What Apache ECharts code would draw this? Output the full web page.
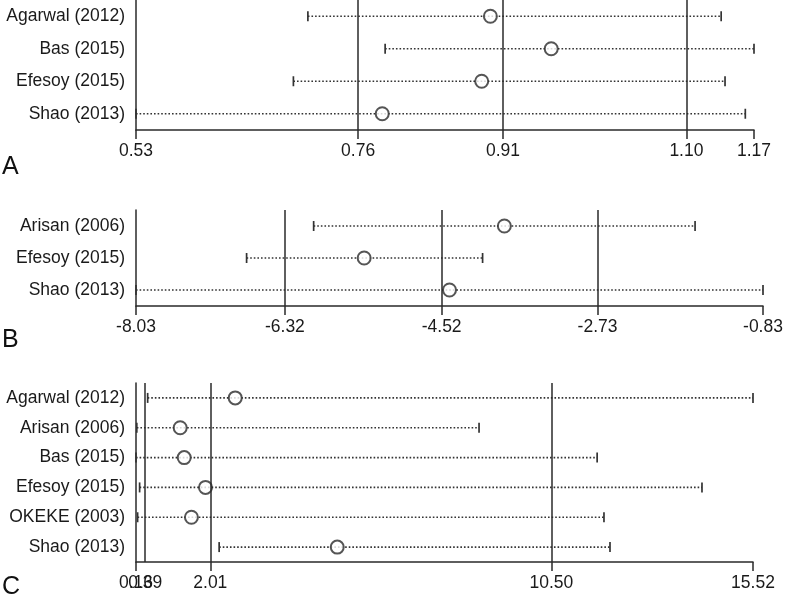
<!DOCTYPE html>
<html>
<head>
<meta charset="utf-8">
<title>Sensitivity analysis</title>
<script src="https://cdn.jsdelivr.net/npm/echarts@6.0.0/dist/echarts.min.js"></script>
<style>
  html, body { margin: 0; padding: 0; background: #fff; }
  #chart { width: 787px; height: 602px; }
</style>
</head>
<body>
<div id="chart"></div>
<script>
// panel A
const studiesA = ['Agarwal (2012)', 'Bas (2015)', 'Efesoy (2015)', 'Shao (2013)']
const estA = [0.897, 0.960, 0.888, 0.785]
const lowA = [0.708, 0.788, 0.693, 0.53]
const highA = [1.136, 1.17, 1.140, 1.161]
const ticksA = [0.53, 0.76, 0.91, 1.10, 1.17]
const refA = [0.76, 0.91, 1.10]

// panel B
const studiesB = ['Arisan (2006)', 'Efesoy (2015)', 'Shao (2013)']
const estB = [-3.80, -5.41, -4.43]
const lowB = [-5.99, -6.76, -8.03]
const highB = [-1.61, -4.05, -0.83]
const ticksB = [-8.03, -6.32, -4.52, -2.73, -0.83]
const refB = [-6.32, -4.52, -2.73]

// panel C
const studiesC = ['Agarwal (2012)', 'Arisan (2006)', 'Bas (2015)', 'Efesoy (2015)', 'OKEKE (2003)', 'Shao (2013)']
const estC = [2.63, 1.26, 1.36, 1.89, 1.54, 5.17]
const lowC = [0.45, 0.18, 0.16, 0.25, 0.20, 2.23]
const highC = [15.52, 8.70, 11.64, 14.25, 11.81, 11.96]
const ticksC = [0.16, 0.39, 2.01, 10.50, 15.52]
const refC = [0.39, 2.01, 10.50]

const FONT = 'Liberation Sans, Arial, sans-serif'
const DARK = '#2a2a2a'

const panels = [
  { studies: studiesA, est: estA, low: lowA, high: highA, ticks: ticksA, ref: refA,
    grid: { left: 136, right: 33, top: 0, bottom: 472 }, letter: 'A', letterTop: 155 },
  { studies: studiesB, est: estB, low: lowB, high: highB, ticks: ticksB, ref: refB,
    grid: { left: 136, right: 24, top: 210, bottom: 296 }, letter: 'B', letterTop: 328 },
  { studies: studiesC, est: estC, low: lowC, high: highC, ticks: ticksC, ref: refC,
    grid: { left: 136, right: 34, top: 383, bottom: 40 }, letter: 'C', letterTop: 575 }
]

const labelStyle = { color: '#1a1a1a', fontSize: 17.5, fontFamily: FONT }

// dotted CI line with short end caps
function renderCI(params, api) {
  const row = api.value(2)
  const p1 = api.coord([api.value(0), row])
  const p2 = api.coord([api.value(1), row])
  const cap = 5
  const capStyle = { stroke: '#333', lineWidth: 1.7 }
  return {
    type: 'group',
    children: [
      { type: 'line', shape: { x1: p1[0], y1: p1[1], x2: p2[0], y2: p2[1] },
        style: { stroke: '#333', lineWidth: 1.6, lineDash: [1.6, 2] } },
      { type: 'line', shape: { x1: p1[0], y1: p1[1] - cap, x2: p1[0], y2: p1[1] + cap }, style: capStyle },
      { type: 'line', shape: { x1: p2[0], y1: p2[1] - cap, x2: p2[0], y2: p2[1] + cap }, style: capStyle }
    ]
  }
}

const grid = []
const xAxis = []
const yAxis = []
const series = []
const graphic = []

panels.forEach((p, i) => {
  grid.push(p.grid)
  xAxis.push({
    type: 'value',
    gridIndex: i,
    min: p.ticks[0],
    max: p.ticks[p.ticks.length - 1],
    splitLine: { show: false },
    axisLine: { show: true, lineStyle: { color: DARK, width: 1.5 } },
    axisTick: { show: true, length: 9, lineStyle: { color: DARK, width: 1.5 }, customValues: p.ticks },
    axisLabel: Object.assign({
      customValues: p.ticks,
      formatter: v => v.toFixed(2),
      hideOverlap: false,
      showMinLabel: true,
      showMaxLabel: true,
      margin: 12
    }, labelStyle)
  })
  yAxis.push({
    type: 'category',
    gridIndex: i,
    data: p.studies,
    inverse: true,
    axisLine: { show: true, lineStyle: { color: DARK, width: 1.5 } },
    axisTick: { show: false },
    axisLabel: Object.assign({ margin: 11 }, labelStyle)
  })
  series.push({
    type: 'custom',
    xAxisIndex: i,
    yAxisIndex: i,
    renderItem: renderCI,
    encode: { x: [0, 1], y: 2 },
    data: p.studies.map((s, k) => [p.low[k], p.high[k], k]),
    z: 2
  })
  series.push({
    type: 'scatter',
    xAxisIndex: i,
    yAxisIndex: i,
    symbol: 'emptyCircle',
    symbolSize: 13,
    itemStyle: { color: DARK, borderColor: DARK, borderWidth: 1.6 },
    data: p.studies.map((s, k) => [p.est[k], k]),
    z: 4,
    markLine: {
      silent: true,
      symbol: 'none',
      label: { show: false },
      lineStyle: { color: DARK, width: 1.5, type: 'solid' },
      data: p.ref.map(v => ({ xAxis: v }))
    }
  })
  graphic.push({
    type: 'text',
    left: 2,
    top: p.letterTop,
    style: { text: p.letter, font: '25px ' + FONT, fill: '#111' }
  })
})

// panel C: the 0.39 label sits on top of 0.16, ECharts would drop it,
// so draw it from a second (invisible) axis on the same grid
xAxis.push({
  type: 'value',
  gridIndex: 2,
  position: 'bottom',
  min: ticksC[0],
  max: ticksC[ticksC.length - 1],
  splitLine: { show: false },
  axisLine: { show: false },
  axisTick: { show: false },
  axisLabel: Object.assign({
    customValues: [ticksC[1]],
    formatter: v => v.toFixed(2),
    margin: 12
  }, labelStyle)
})

const chart = echarts.init(document.getElementById('chart'))
chart.setOption({
  animation: false,
  backgroundColor: '#fff',
  grid: grid,
  xAxis: xAxis,
  yAxis: yAxis,
  series: series,
  graphic: graphic
})
</script>
</body>
</html>
